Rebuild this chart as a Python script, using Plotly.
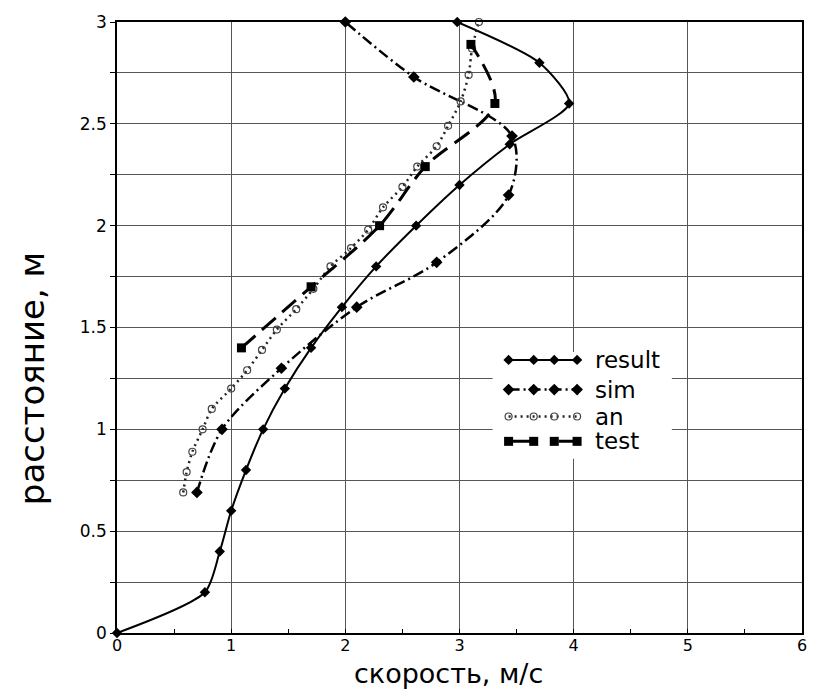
import plotly.graph_objects as go

# ---- data (x = скорость, м/с ; y = расстояние, м) ----
result_y = [0, 0.2, 0.4, 0.6, 0.8, 1.0, 1.2, 1.4, 1.6, 1.8, 2.0, 2.2, 2.4, 2.6, 2.8, 3.0]
result_x = [0, 0.77, 0.90, 1.00, 1.13, 1.28, 1.47, 1.70, 1.97, 2.27, 2.62, 3.00, 3.44, 3.96, 3.70, 2.98]

sim_y = [0.69, 1.0, 1.30, 1.60, 1.82, 2.15, 2.44, 2.73, 3.0]
sim_x = [0.70, 0.92, 1.44, 2.10, 2.80, 3.43, 3.46, 2.60, 2.00]

an_y = [0.69, 0.79, 0.89, 1.0, 1.10, 1.20, 1.29, 1.39, 1.49, 1.59, 1.69, 1.80,
        1.89, 1.98, 2.09, 2.19, 2.29, 2.39, 2.49, 2.61, 2.74, 2.87, 3.0]
an_x = [0.58, 0.61, 0.66, 0.75, 0.83, 1.00, 1.14, 1.27, 1.40, 1.57, 1.72, 1.87,
        2.05, 2.20, 2.33, 2.50, 2.63, 2.80, 2.90, 3.01, 3.08, 3.11, 3.17]

test_y = [1.40, 1.70, 2.0, 2.29, 2.60, 2.89]
test_x = [1.09, 1.70, 2.30, 2.70, 3.31, 3.10]

series_names = ["result", "sim", "an", "test"]
x_ticks = [0, 1, 2, 3, 4, 5, 6]
y_ticks = [0, 0.5, 1, 1.5, 2, 2.5, 3]

# legend sample layout (data units)
legend_box_x = [3.29, 4.86]
legend_box_y = [0.855, 1.38]
legend_rows_y = [1.341, 1.195, 1.063, 0.941]
legend_marker_x = [3.43, 3.65, 3.83, 4.03]
legend_text_x = 4.17

FONT = "DejaVu Sans"

styles = {
    "result": dict(line=dict(color="black", width=2, dash="solid", shape="spline", smoothing=0.7),
                   marker=dict(symbol="diamond", size=8, color="black")),
    "sim": dict(line=dict(color="black", width=2.5, dash="11px,4px,2px,4px", shape="spline", smoothing=0.9),
                marker=dict(symbol="diamond", size=9, color="black")),
    "an": dict(line=dict(color="#222", width=2.5, dash="2px,4px", shape="spline", smoothing=0.8),
               marker=dict(symbol="circle-open", size=7, color="#444", line=dict(width=1.2))),
    "test": dict(line=dict(color="black", width=3, dash="18px,9px", shape="spline", smoothing=0.9),
                 marker=dict(symbol="square", size=9, color="black")),
}

data = {
    "result": (result_x, result_y),
    "sim": (sim_x, sim_y),
    "an": (an_x, an_y),
    "test": (test_x, test_y),
}

fig = go.Figure()
for name in series_names:
    xs, ys = data[name]
    st = styles[name]
    fig.add_trace(go.Scatter(x=xs, y=ys, mode="lines+markers", name=name,
                             line=st["line"], marker=st["marker"], cliponaxis=False))

# custom legend samples
for name, ly in zip(series_names, legend_rows_y):
    st = styles[name]
    ln = dict(st["line"])
    ln["shape"] = "linear"
    if name == "test":
        ln["dash"] = "26px,24px"
    fig.add_trace(go.Scatter(x=legend_marker_x, y=[ly] * len(legend_marker_x),
                             mode="lines+markers", line=ln, marker=st["marker"],
                             showlegend=False, hoverinfo="skip", cliponaxis=False))
    fig.add_annotation(x=legend_text_x, y=ly, text=name, showarrow=False,
                       xanchor="left", yanchor="middle",
                       font=dict(family=FONT, size=23, color="black"))

fig.add_shape(type="rect", x0=legend_box_x[0], x1=legend_box_x[1],
              y0=legend_box_y[0], y1=legend_box_y[1],
              fillcolor="white", line=dict(width=0), layer="between")

grid = "#555"
fig.update_xaxes(range=[0, 6], tickvals=x_ticks, showgrid=True, gridcolor=grid, gridwidth=1.2,
                 showline=True, linecolor="black", linewidth=1.5, mirror=True,
                 zeroline=False, ticks="", ticklabelstandoff=-3,
                 tickfont=dict(family=FONT, size=16, color="black"),
                 minor=dict(dtick=0.5, tick0=0, ticks="inside", ticklen=4, tickcolor="black",
                            showgrid=False))
fig.update_yaxes(range=[0, 3], tickvals=y_ticks, showgrid=True, gridcolor=grid, gridwidth=1.2,
                 showline=True, linecolor="black", linewidth=1.5, mirror=True,
                 zeroline=False, ticks="outside", ticklen=5, tickcolor="black",
                 tickfont=dict(family=FONT, size=17, color="black"),
                 minor=dict(dtick=0.25, tick0=0, ticks="outside", ticklen=5, tickcolor="black",
                            showgrid=True, gridcolor=grid, gridwidth=1.2))

fig.add_annotation(xref="paper", yref="paper", x=0.484, y=-0.093, text="скорость, м/с",
                   showarrow=False, xanchor="center", yanchor="bottom", borderpad=0,
                   font=dict(family=FONT, size=27, color="black"))
fig.add_annotation(xref="paper", yref="paper", x=-0.125, y=0.416, text="расстояние, м",
                   showarrow=False, xanchor="center", yanchor="middle", textangle=-90,
                   font=dict(family=FONT, size=34, color="black"))

fig.update_layout(width=819, height=690, margin=dict(l=117, r=12, t=18, b=57),
                  plot_bgcolor="white", paper_bgcolor="white", showlegend=False)

fig.write_html("out.html")
